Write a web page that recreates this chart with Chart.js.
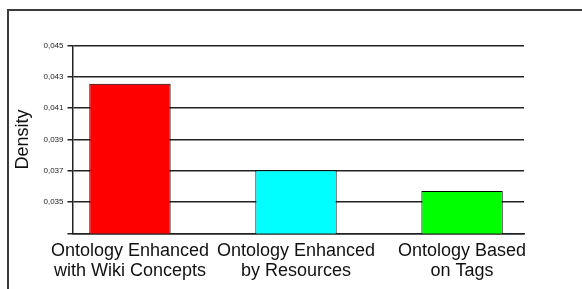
<!DOCTYPE html>
<html>
<head>
<meta charset="utf-8">
<script src="https://cdn.jsdelivr.net/npm/chart.js@4.4.1/dist/chart.umd.min.js"></script>
<style>
  html, body { margin: 0; padding: 0; background: #fff; }
  #wrap { position: relative; width: 582px; height: 289px; overflow: hidden; }
  #frame { position: absolute; left: 7px; top: 9px; width: 700px; height: 400px;
           border-left: 2px solid #3c3c3c; border-top: 2px solid #3c3c3c; }
  canvas { position: absolute; left: 0; top: 0; }
</style>
</head>
<body>
<div id="wrap">
  <div id="frame"></div>
  <canvas id="c" width="582" height="289"></canvas>
</div>
<script>
const categories = [
  ["Ontology Enhanced", "with Wiki Concepts"],
  ["Ontology Enhanced", "by Resources"],
  ["Ontology Based", "on Tags"]
];
const densityValues = [0.04256, 0.03704, 0.03572];
const barColors = ["#FF0000", "#00FFFF", "#00FF00"];
const yTickValues = [0.033, 0.035, 0.037, 0.039, 0.041, 0.043, 0.045];
const yTickLabels = ["", "0,035", "0,037", "0,039", "0,041", "0,043", "0,045"];
const yAxisTitle = "Density";

const FONT = "Liberation Sans, Arial, sans-serif";

new Chart(document.getElementById("c"), {
  type: "bar",
  data: {
    datasets: [{
      data: densityValues.map((v, i) => ({ x: i, y: v })),
      backgroundColor: barColors,
      borderColor: "#000",
      borderWidth: 1,
      borderSkipped: false,
      categoryPercentage: 1.0,
      barPercentage: 0.49
    }]
  },
  options: {
    responsive: false,
    animation: false,
    devicePixelRatio: 1,
    layout: { padding: { left: 0, right: 58, top: 45.5, bottom: 0 } },
    plugins: { legend: { display: false }, tooltip: { enabled: false } },
    scales: {
      x: {
        type: "linear",
        offset: false,
        min: -0.346,
        max: 2.373,
        afterBuildTicks: (s) => { s.ticks = categories.map((c, i) => ({ value: i })); },
        grid: { display: true, offset: false, drawOnChartArea: false, drawTicks: false },
        border: { display: true, color: "#222", width: 1.5 },
        ticks: {
          color: "#111",
          font: { family: FONT, size: 18, lineHeight: 1.11 },
          padding: 8,
          maxRotation: 0,
          autoSkip: false,
          callback: (v, i) => categories[i]
        },
        afterFit: (s) => { s.height = 55.5; }
      },
      y: {
        min: yTickValues[0],
        max: yTickValues[yTickValues.length - 1],
        afterBuildTicks: (s) => { s.ticks = yTickValues.map(v => ({ value: v })); },
        grid: { color: "#222", lineWidth: 1.5, tickLength: 5 },
        border: { display: true, color: "#222", width: 1.5 },
        ticks: {
          color: "#222",
          font: { family: FONT, size: 8 },
          padding: 4,
          callback: (v, i) => yTickLabels[i]
        },
        title: {
          display: true,
          text: yAxisTitle,
          color: "#111",
          font: { family: FONT, size: 18 },
          padding: { top: 12.5, bottom: 0 }
        },
        afterFit: (s) => { s.width = 72.5; }
      }
    }
  }
});
</script>
</body>
</html>
